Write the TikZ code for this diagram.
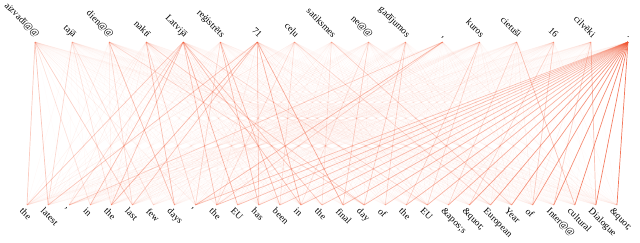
\documentclass[tikz,border=0pt]{standalone}
\usepackage{fontspec}
\setmainfont{Liberation Serif}
\definecolor{att}{RGB}{240,84,48}
\begin{document}
\begin{tikzpicture}[x=1pt,y=-1pt,
  conn/.style={draw=att, line width=0.5pt},
  strong/.style={draw=att, line width=0.7pt},
  topw/.style={anchor=base east, rotate=-45, font=\fontsize{9.5}{10}\selectfont, inner sep=0pt, text=black},
  botw/.style={anchor=north west, rotate=-45, font=\fontsize{9.5}{10}\selectfont, inner sep=0pt, text=black}]
\useasboundingbox (0,0) rectangle (640,242);
% top tokens
\foreach \w [count=\i] in {aizvadī@@, tajā, dien@@, naktī, Latvijā, reģistrēts, 71, ceļu, satiksmes, ne@@, gadījumos, {,}, kuros, cietuši, 16, cilvēki, .}{
  \pgfmathsetmacro{\xx}{35+(\i-1)*37.06}
  \coordinate (t\i) at (\xx,42);
  \node[topw] (tw\i) at (\xx+1,38) {\w};
}
% bottom tokens
\foreach \w [count=\j] in {the, latest, {,}, in, the, last, few, days, {,}, the, EU, has, been, in, the, final, day, of, the, EU, \&apos;s, \&quot;, European, Year, of, Inter@@, cultural, Dialogue, \&quot;}{
  \pgfmathsetmacro{\xx}{27+(\j-1)*21.07}
  \coordinate (b\j) at (\xx,205);
  \node[botw] (bw\j) at (\xx-3,207) {\w};
}
% faint attention mesh
\pgfmathsetseed{11}
\foreach \i in {1,...,17}{
  \foreach \j in {1,...,29}{
    \pgfmathsetmacro{\o}{0.02+0.10*rnd*rnd}
    \draw[conn, opacity=\o] (t\i) -- (b\j);
  }
}
% stronger weights
\foreach \i/\j/\o in {
  1/1/0.25, 1/2/0.3, 1/6/0.25, 1/4/0.15,
  2/2/0.2, 2/5/0.15, 2/7/0.15,
  3/8/0.3, 3/6/0.2, 3/17/0.2,
  4/8/0.35, 4/17/0.25, 4/9/0.2,
  5/1/0.25, 5/4/0.35, 5/5/0.3, 5/10/0.3, 5/11/0.4, 5/14/0.3, 5/15/0.3, 5/20/0.2, 5/3/0.2,
  6/12/0.35, 6/13/0.35, 6/9/0.2,
  7/5/0.4, 7/6/0.3, 7/14/0.4, 7/16/0.45, 7/12/0.3, 7/2/0.3,
  8/23/0.2, 8/10/0.15, 8/13/0.15,
  9/24/0.2, 9/15/0.15,
  10/16/0.2, 10/14/0.15,
  11/17/0.25, 11/18/0.2,
  12/9/0.35, 12/3/0.25, 12/10/0.2,
  13/19/0.2, 13/20/0.2,
  14/27/0.3, 14/21/0.2,
  15/25/0.25, 15/22/0.2,
  16/28/0.35, 16/26/0.25,
  17/9/0.3, 17/10/0.35, 17/11/0.35, 17/12/0.3, 17/13/0.3, 17/14/0.35, 17/15/0.35, 17/16/0.4, 17/17/0.35, 17/18/0.35, 17/19/0.4, 17/20/0.4, 17/21/0.45, 17/22/0.5, 17/23/0.55, 17/24/0.6, 17/25/0.6, 17/26/0.65, 17/27/0.7, 17/28/0.75, 17/29/0.8}{
  \draw[strong, opacity=\o] (t\i) -- (b\j);
}
\end{tikzpicture}
\end{document}
